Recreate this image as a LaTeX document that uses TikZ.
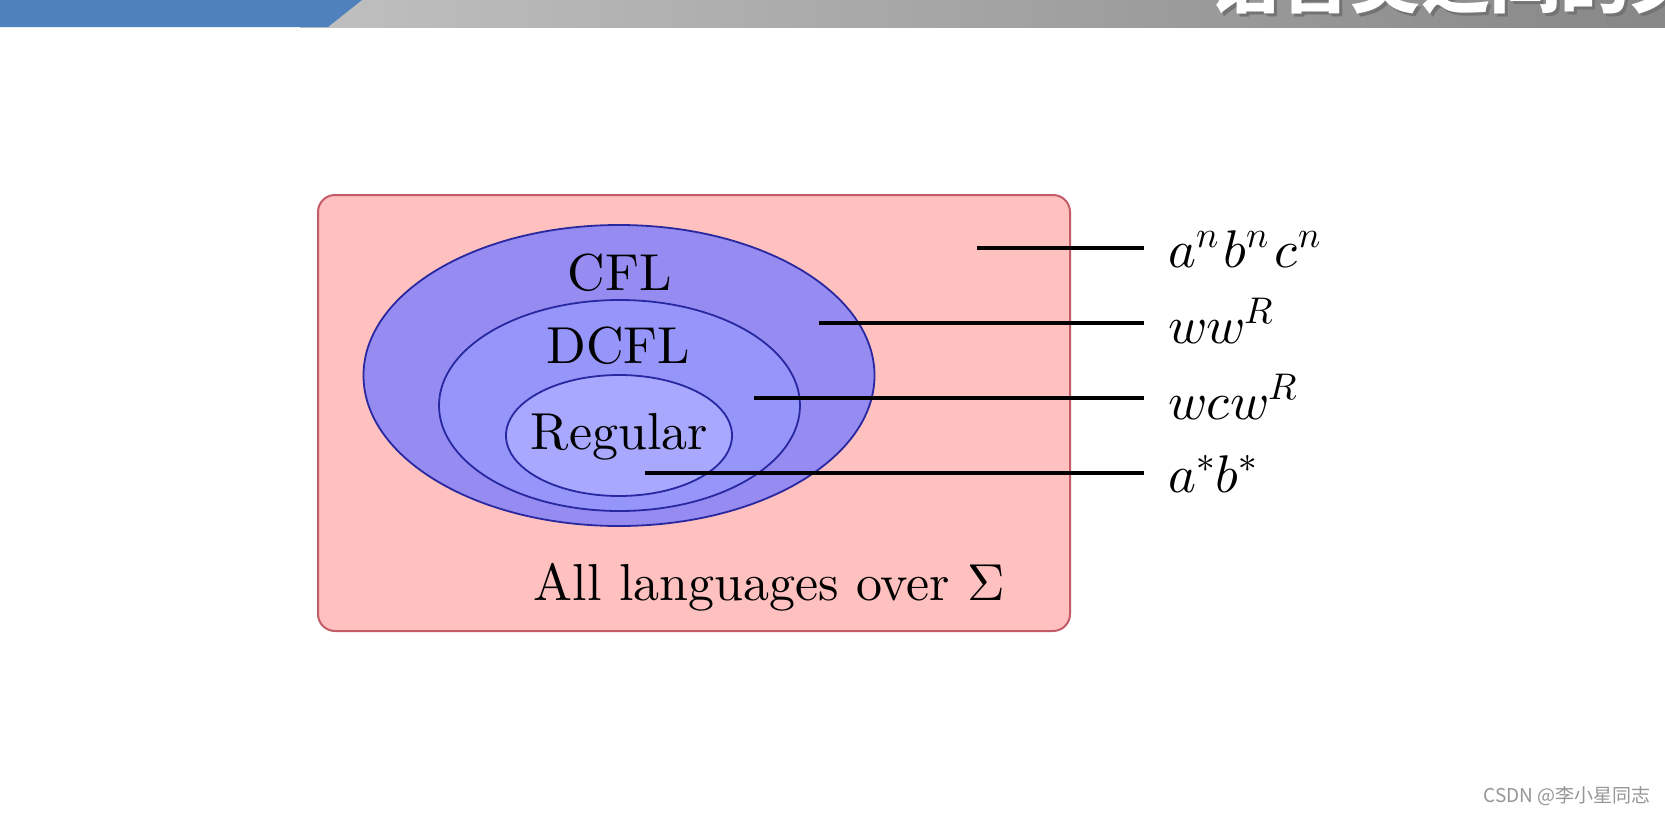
\documentclass[tikz,border=0pt]{standalone}
\usepackage{fontspec}
\usepackage{unicode-math}
\setmainfont{lmroman10-regular.otf}[BoldFont=lmroman10-bold.otf, ItalicFont=lmroman10-italic.otf]
\setmathfont{latinmodern-math.otf}
\newfontfamily\cjk{Noto Sans CJK SC}
\usetikzlibrary{shapes.geometric}
\definecolor{bannerblue}{RGB}{79,129,189}
\definecolor{grayL}{RGB}{192,192,192}
\definecolor{grayR}{RGB}{135,135,135}
\definecolor{pinkfill}{RGB}{255,192,192}
\definecolor{pinkedge}{RGB}{196,92,104}
\definecolor{cflfill}{RGB}{149,139,241}
\definecolor{dcflfill}{RGB}{150,150,250}
\definecolor{regfill}{RGB}{168,168,255}
\definecolor{blueedge}{RGB}{40,40,160}
\definecolor{wmgray}{RGB}{150,150,150}
\tikzset{
  langset/.style={ellipse, draw=blueedge, line width=1.8pt, inner sep=0pt},
  bigtext/.style={font=\fontsize{52}{62}\selectfont, inner sep=0pt, anchor=base},
  labeltext/.style={font=\fontsize{53}{62}\selectfont, inner sep=0pt, anchor=base west},
  pointer/.style={line width=3.2pt, black},
}
\begin{document}
\begin{tikzpicture}[x=1pt,y=-1pt]
\useasboundingbox (0,0) rectangle (1665,817);
\fill[white] (0,0) rectangle (1665,817);
% banner
\shade[left color=grayL, right color=grayR] (300,0) rectangle (1665,27);
\fill[bannerblue] (0,0) -- (362,0) -- (328,27) -- (0,27) -- cycle;
\begin{scope}
\clip (0,0) rectangle (1665,27);
\node[anchor=base west, inner sep=0pt, text=black!55, font=\cjk\bfseries\fontsize{70}{70}\selectfont] (titleshadow) at (1213,10) {语言类之间的关系};
\node[anchor=base west, inner sep=0pt, text=white, font=\cjk\bfseries\fontsize{70}{70}\selectfont] (title) at (1210,7) {语言类之间的关系};
\end{scope}
% universe
\draw[fill=pinkfill, draw=pinkedge, line width=2pt, rounded corners=17pt] (318,195) rectangle (1070,631);
% language classes
\node[langset, fill=cflfill, minimum width=511pt, minimum height=301pt] (cfl) at (619,375.5) {};
\node[langset, fill=dcflfill, minimum width=361pt, minimum height=211pt] (dcfl) at (619.5,405.5) {};
\node[langset, fill=regfill, minimum width=226pt, minimum height=121pt] (reg) at (619,435.5) {};
\node[bigtext] (cfltext) at (619.5,290) {CFL};
\node[bigtext] (dcfltext) at (618.5,363) {DCFL};
\node[bigtext] (regtext) at (619.5,449) {Regular};
\node[bigtext] (alltext) at (769.5,600) {All languages over $\Sigma$};
% pointers
\coordinate (p1) at (977,248);  \coordinate (q1) at (1144,248);
\coordinate (p2) at (819,323);  \coordinate (q2) at (1144,323);
\coordinate (p3) at (754,398);  \coordinate (q3) at (1144,398);
\coordinate (p4) at (645,473);  \coordinate (q4) at (1144,473);
\draw[pointer] (p1) -- (q1);
\draw[pointer] (p2) -- (q2);
\draw[pointer] (p3) -- (q3);
\draw[pointer] (p4) -- (q4);
\node[labeltext] (l1) at (1168,267) {$a^n\mkern1.5mu b^n\mkern1.5mu c^n$};
\node[labeltext] (l2) at (1168,343) {$ww^R$};
\node[labeltext] (l3) at (1168,419) {$wcw^R$};
\node[labeltext] (l4) at (1168,492) {$a^*b^*$};
% watermark
\node[anchor=east, inner sep=0pt, text=wmgray, font=\cjk\fontsize{19}{19}\selectfont] (wm) at (1651,796) {CSDN @李小星同志};
\end{tikzpicture}
\end{document}
